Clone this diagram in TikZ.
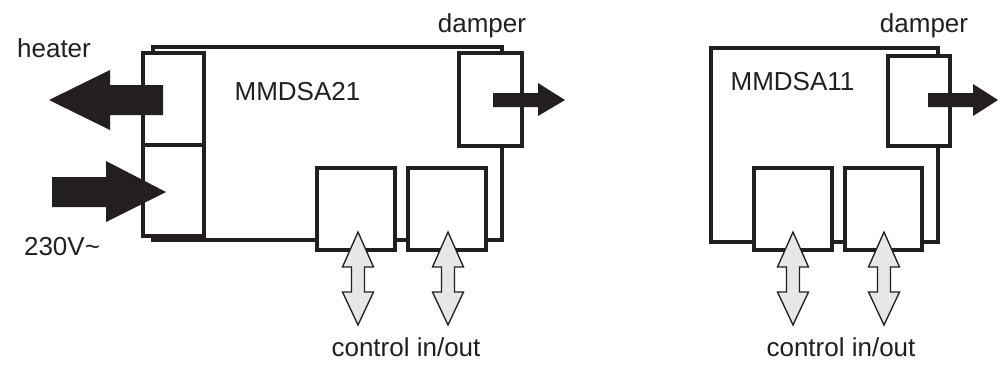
\documentclass[tikz,border=0pt]{standalone}
\usepackage{fontspec}
\setmainfont{Liberation Sans}
\definecolor{ink}{HTML}{231F20}
\definecolor{lightgray}{HTML}{E6E7E8}
\tikzset{
  box/.style={draw=ink, line width=2.4pt, fill=white},
  blk/.style={fill=ink, draw=none},
  gry/.style={fill=lightgray, draw=ink, line width=1pt, line join=miter},
  lbl/.style={text=ink, anchor=base, inner sep=0pt, font=\fontsize{19.5}{22}\selectfont},
  clbl/.style={text=ink, anchor=base, inner sep=0pt, font=\fontsize{19.5}{22}\selectfont},
}
\newcommand{\dblarrow}[1]{%
  \draw[gry] (#1,232) -- (#1+15.5,267) -- (#1+6.5,267) -- (#1+6.5,292) -- (#1+15.5,292)
    -- (#1,325) -- (#1-15.5,292) -- (#1-6.5,292) -- (#1-6.5,267) -- (#1-15.5,267) -- cycle;}
\begin{document}
\begin{tikzpicture}[x=0.75pt,y=-0.75pt]
\useasboundingbox (0,0) rectangle (1003,365);
% ---------- left unit MMDSA21 ----------
\draw[box] (153,47) rectangle (502,240);
\draw[box] (143,53) rectangle (204,145);
\draw[box] (143,145) rectangle (204,236);
\draw[box] (459,53) rectangle (522,146);
\draw[box] (317,168) rectangle (395,250);
\draw[box] (408,168) rectangle (486,250);
% heater arrow (out, to the left)
\fill[blk] (163,85) -- (110,85) -- (110,70) -- (49,100) -- (110,130) -- (110,115) -- (163,115) -- cycle;
% 230V arrow (in, to the right)
\fill[blk] (52,177) -- (106,177) -- (106,161) -- (166,192) -- (106,222) -- (106,207) -- (52,207) -- cycle;
% damper arrow
\fill[blk] (493,93) -- (538,93) -- (538,83) -- (565,100) -- (538,116) -- (538,107) -- (493,107) -- cycle;
% control arrows
\dblarrow{358}
\dblarrow{448}
% labels
\node[lbl] (heater) at (54,57) {heater};
\node[lbl] (v230) at (62,255) {230V\char"007E};
\node[lbl] (name1) at (297.5,100) {MMDSA21};
\node[lbl] (damp1) at (482,32) {damper};
\node[clbl] (ctl1) at (406,356) {control in/out};
% ---------- right unit MMDSA11 ----------
\draw[box] (711,48) rectangle (938,242);
\draw[box] (888,56) rectangle (950,146);
\draw[box] (754,168) rectangle (832,250);
\draw[box] (845,168) rectangle (922,250);
\fill[blk] (928,93) -- (973,93) -- (973,84) -- (998,100) -- (973,116) -- (973,107) -- (928,107) -- cycle;
\dblarrow{793}
\dblarrow{884}
\node[lbl] (name2) at (792.5,90) {MMDSA11};
\node[lbl] (damp2) at (924,32) {damper};
\node[clbl] (ctl2) at (841,356) {control in/out};
\end{tikzpicture}
\end{document}
